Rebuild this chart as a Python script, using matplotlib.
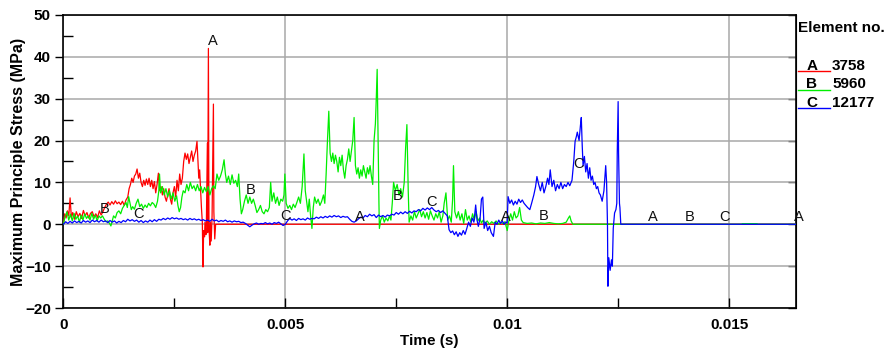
import numpy as np
import matplotlib
matplotlib.use("Agg")
import matplotlib.pyplot as plt
from matplotlib.lines import Line2D
from matplotlib.ticker import MultipleLocator, FuncFormatter, NullLocator

plt.rcParams['font.family'] = ['Liberation Sans', 'DejaVu Sans']

# (time s, max principal stress MPa)
red_pts = [
    (0.0, 0), (0.00003, 2.5), (0.00006, 1.5), (0.00009, 3.2), (0.00012, 2.0),
    (0.00015, 6.3), (0.00018, 1.5), (0.00021, 2.8), (0.00025, 1.2), (0.00029, 3.0),
    (0.00033, 1.8), (0.00037, 2.6), (0.00041, 1.4), (0.00045, 3.3), (0.00049, 2.0),
    (0.00053, 2.8), (0.00057, 1.5), (0.00061, 2.6), (0.00065, 3.0), (0.00069, 1.8),
    (0.00073, 2.5), (0.00077, 1.6), (0.00081, 3.2), (0.00085, 2.2), (0.00089, 3.0),
    (0.00093, 4.0), (0.00097, 4.8), (0.00101, 5.3), (0.00105, 4.6), (0.00109, 5.4),
    (0.00113, 4.8), (0.00117, 5.6), (0.00121, 4.9), (0.00125, 5.3), (0.00129, 4.7),
    (0.00133, 5.5), (0.00137, 4.5), (0.00141, 5.8), (0.00145, 6.5), (0.00148, 8.5),
    (0.00151, 9.5), (0.00154, 11.0), (0.00157, 10.0), (0.00160, 11.5), (0.00163, 12.0),
    (0.00166, 13.2), (0.00169, 11.0), (0.00172, 12.2), (0.00175, 10.0), (0.00178, 9.0),
    (0.00181, 10.5), (0.00184, 9.3), (0.00187, 10.8), (0.00190, 9.5), (0.00193, 11.0),
    (0.00196, 9.0), (0.00199, 10.5), (0.00202, 8.5), (0.00205, 10.2), (0.00208, 7.5),
    (0.00211, 9.5), (0.00214, 12.2), (0.00217, 8.0), (0.00220, 9.0), (0.00223, 7.0),
    (0.00226, 8.5), (0.00229, 6.5), (0.00232, 5.5), (0.00235, 7.0), (0.00238, 8.5),
    (0.00241, 6.0), (0.00244, 4.8), (0.00247, 7.5), (0.00250, 9.0), (0.00253, 6.5),
    (0.00256, 10.5), (0.00259, 8.0), (0.00262, 12.0), (0.00265, 9.5), (0.00268, 11.0),
    (0.00271, 15.0), (0.00274, 17.0), (0.00277, 15.5), (0.00280, 16.8), (0.00283, 14.5),
    (0.00286, 16.0), (0.00289, 17.5), (0.00292, 15.0), (0.00295, 16.5), (0.00298, 17.5),
    (0.00301, 19.8), (0.00303, 15.5), (0.00305, 11.0), (0.00307, 13.0), (0.00309, 8.5),
    (0.00311, 4.0), (0.00313, 0.5), (0.003145, -10.2), (0.00316, -1.5), (0.00318, -3.0),
    (0.00319, 0.5), (0.00321, -2.5), (0.00322, -1.0), (0.003244, 19.4), (0.00325, -2.0),
    (0.003267, 42.0), (0.00328, -1.0), (0.00330, -5.0), (0.00331, 0.5), (0.00333, -4.0),
    (0.00335, 2.0), (0.00338, 28.7), (0.00339, 3.0), (0.00341, -3.5), (0.00343, 0.0),
    (0.0165, 0.0),
]

green_pts = [
    (0.0, 0), (0.00003, 1.5), (0.00008, 3.0), (0.00012, 1.0), (0.00016, 2.4),
    (0.00020, 0.8), (0.00024, 2.6), (0.00028, 1.2), (0.00032, 2.0), (0.00036, 0.5),
    (0.00040, 2.2), (0.00044, 1.0), (0.00048, 2.5), (0.00052, 1.4), (0.00056, 2.0),
    (0.00060, 1.0), (0.00064, 2.6), (0.00068, 1.2), (0.00072, 2.2), (0.00076, 0.8),
    (0.00080, 2.0), (0.00084, 1.5), (0.00088, 2.0), (0.00092, 1.2), (0.00096, 0.6),
    (0.00100, 0.8), (0.00104, 0.2), (0.00107, -0.4), (0.00110, 0.8), (0.00113, 2.0),
    (0.00117, 1.5), (0.00121, 2.8), (0.00125, 3.2), (0.00129, 2.5), (0.00133, 3.8),
    (0.00137, 4.5), (0.00141, 5.2), (0.00144, 4.0), (0.00147, 6.6), (0.00150, 5.0),
    (0.00153, 3.5), (0.00156, 4.2), (0.00160, 3.6), (0.00164, 5.0), (0.00168, 6.0),
    (0.00172, 4.2), (0.00176, 4.8), (0.00180, 3.8), (0.00184, 4.6), (0.00188, 4.0),
    (0.00192, 5.0), (0.00196, 4.4), (0.00200, 5.2), (0.00204, 4.8), (0.00208, 4.0),
    (0.00212, 5.5), (0.00215, 8.0), (0.002165, 12.0), (0.00219, 7.5), (0.00223, 9.0),
    (0.00227, 7.0), (0.00231, 8.5), (0.00235, 6.5), (0.00239, 8.0), (0.00243, 6.0),
    (0.00247, 7.5), (0.00251, 5.5), (0.00255, 6.8), (0.00258, 4.5), (0.00261, 3.0),
    (0.00264, 4.0), (0.00267, 6.5), (0.00270, 8.0), (0.00274, 7.5), (0.00278, 9.5),
    (0.00282, 8.0), (0.00286, 10.0), (0.00290, 8.5), (0.00294, 9.2), (0.00298, 8.0),
    (0.00302, 9.5), (0.00306, 8.0), (0.00310, 9.0), (0.00314, 7.5), (0.00318, 8.8),
    (0.00322, 7.8), (0.00326, 9.0), (0.00330, 7.0), (0.00334, 8.5), (0.00338, 9.2),
    (0.00342, 8.5), (0.00346, 12.0), (0.00350, 10.5), (0.00354, 11.5), (0.00358, 13.0),
    (0.00362, 15.4), (0.00365, 12.0), (0.00368, 10.0), (0.00372, 11.5), (0.00376, 9.5),
    (0.00380, 11.8), (0.00384, 9.8), (0.00388, 10.5), (0.00392, 9.0), (0.00395, 12.0),
    (0.00398, 6.0), (0.00401, 2.5), (0.00404, 3.5), (0.00408, 5.5), (0.00412, 7.0),
    (0.00416, 5.0), (0.00420, 6.5), (0.00424, 5.0), (0.00428, 6.0), (0.00432, 4.5),
    (0.00436, 2.8), (0.00440, 3.5), (0.00444, 4.5), (0.00448, 3.0), (0.00452, 2.5),
    (0.00456, 3.5), (0.00460, 3.0), (0.00464, 4.0), (0.00467, 10.0), (0.00470, 5.5),
    (0.00474, 7.5), (0.00478, 5.0), (0.00482, 6.5), (0.00486, 4.5), (0.00490, 6.0),
    (0.00494, 5.5), (0.00497, 7.0), (0.00499, 12.0), (0.00502, 5.0), (0.00506, 3.8),
    (0.00510, 4.5), (0.00514, 3.5), (0.00518, 4.8), (0.00522, 4.0), (0.00526, 5.2),
    (0.00530, 6.5), (0.00534, 5.0), (0.00538, 9.0), (0.00542, 16.8), (0.00545, 8.0),
    (0.00548, 5.5), (0.00551, 3.0), (0.00554, 6.0), (0.00557, 2.0), (0.00560, -1.0),
    (0.00563, 4.0), (0.00566, 6.5), (0.00570, 5.0), (0.00574, 6.0), (0.00578, 4.5),
    (0.00582, 5.5), (0.00586, 7.0), (0.00589, 5.0), (0.00592, 12.0), (0.00595, 20.0),
    (0.00598, 27.0), (0.00601, 17.0), (0.00604, 15.0), (0.00607, 17.0), (0.00610, 14.5),
    (0.00613, 16.5), (0.00616, 15.0), (0.00619, 12.5), (0.00622, 16.0), (0.00625, 14.0),
    (0.00628, 16.5), (0.00631, 13.0), (0.00634, 11.0), (0.00637, 14.0), (0.00640, 15.5),
    (0.00643, 18.0), (0.00646, 15.0), (0.00649, 17.5), (0.00652, 20.0), (0.00655, 25.5),
    (0.00658, 14.0), (0.00661, 12.0), (0.00664, 13.5), (0.00667, 11.0), (0.00670, 13.0),
    (0.00673, 11.5), (0.00676, 14.0), (0.00679, 12.5), (0.00682, 11.0), (0.00685, 13.5),
    (0.00688, 12.0), (0.00691, 14.0), (0.00694, 11.5), (0.00697, 9.5), (0.00700, 20.0),
    (0.00703, 24.0), (0.00705, 30.0), (0.00707, 37.0), (0.00709, 20.0), (0.00711, 5.0),
    (0.00712, -1.0), (0.00715, 1.0), (0.00719, 2.0), (0.00723, 0.5), (0.00727, 1.5),
    (0.00731, 0.8), (0.00735, 2.0), (0.00738, 1.0), (0.00741, 5.0), (0.00744, 10.0),
    (0.00748, 8.0), (0.00752, 9.5), (0.00756, 7.0), (0.00760, 8.5), (0.00764, 6.5),
    (0.00768, 10.0), (0.00771, 18.0), (0.00774, 23.8), (0.00777, 8.0), (0.00779, 0.5),
    (0.00783, 2.0), (0.00787, 1.0), (0.00791, 3.0), (0.00795, 1.5), (0.00799, 2.5),
    (0.00803, 3.5), (0.00807, 1.8), (0.00811, 3.0), (0.00815, 1.5), (0.00819, 2.8),
    (0.00823, 1.2), (0.00827, 3.2), (0.00831, 2.0), (0.00835, 1.0), (0.00839, 2.5),
    (0.00843, 1.5), (0.00847, 3.0), (0.00851, 0.5), (0.00855, 2.0), (0.00858, 5.0),
    (0.00862, 7.5), (0.00866, 1.0), (0.00870, 2.0), (0.00874, 0.5), (0.00877, 6.0),
    (0.00879, 14.0), (0.00882, 3.0), (0.00886, 1.5), (0.00890, 3.0), (0.00894, 1.0),
    (0.00898, 2.5), (0.00902, 0.2), (0.00906, 3.5), (0.00910, 1.0), (0.00914, 2.0),
    (0.00918, 0.5), (0.00922, 2.5), (0.00926, 1.0), (0.00930, 3.0), (0.00934, 0.8),
    (0.00938, 1.5), (0.00942, 0.3), (0.00946, 1.0), (0.00950, 0.2), (0.00955, 0.8),
    (0.00960, 0.0), (0.00965, 0.6), (0.00970, 0.2), (0.00975, 0.8), (0.00980, 0.0),
    (0.00985, 0.5), (0.00990, 0.2), (0.00995, 0.6), (0.01000, -1.5), (0.01004, 1.0),
    (0.01008, 2.5), (0.01012, 1.0), (0.01016, 3.0), (0.01020, 1.5), (0.01024, 2.0),
    (0.01028, 4.0), (0.01032, 1.0), (0.01036, 0.4), (0.01045, 0.2), (0.01055, 0.3),
    (0.01065, 0.1), (0.01075, 0.3), (0.01085, 0.2), (0.01095, 0.4), (0.01105, 0.2),
    (0.01115, 0.1), (0.01125, 0.2), (0.01133, 0.5), (0.01138, 1.5), (0.01141, 2.0),
    (0.01144, 0.8), (0.01148, 0.0), (0.01528, 0.0), (0.01530, 0.15), (0.01563, 0.15),
    (0.01565, 0.0), (0.0165, 0.0),
]

blue_pts = [
    (0.0, 0.0), (0.00005, 0.6), (0.00010, 0.2), (0.00015, 0.7), (0.00020, 0.3),
    (0.00025, 0.8), (0.00030, 0.4), (0.00035, 0.7), (0.00040, 0.3), (0.00045, 0.9),
    (0.00050, 0.5), (0.00055, 0.8), (0.00060, 0.4), (0.00065, 1.0), (0.00070, 0.6),
    (0.00075, 0.9), (0.00080, 0.5), (0.00085, 1.0), (0.00090, 0.6), (0.00095, 0.8),
    (0.00100, 0.4), (0.00105, 0.9), (0.00110, 0.5), (0.00115, 0.8), (0.00120, 0.3),
    (0.00125, 0.7), (0.00130, 0.4), (0.00135, 0.9), (0.00140, 0.6), (0.00145, 1.2),
    (0.00150, 0.8), (0.00155, 1.1), (0.00160, 0.7), (0.00165, 1.0), (0.00170, 0.5),
    (0.00175, 0.9), (0.00180, 0.4), (0.00185, 0.8), (0.00190, 0.5), (0.00195, 1.0),
    (0.00200, 0.6), (0.00205, 1.1), (0.00210, 0.7), (0.00215, 1.2), (0.00220, 1.0),
    (0.00225, 1.4), (0.00230, 1.1), (0.00235, 1.5), (0.00240, 1.2), (0.00245, 1.6),
    (0.00250, 1.3), (0.00255, 1.5), (0.00260, 1.2), (0.00265, 1.4), (0.00270, 1.1),
    (0.00275, 1.3), (0.00280, 1.0), (0.00285, 1.4), (0.00290, 1.1), (0.00295, 1.3),
    (0.00300, 1.0), (0.00305, 1.2), (0.00310, 0.9), (0.00315, 1.1), (0.00320, 0.8),
    (0.00325, 1.0), (0.00330, 0.7), (0.00335, 1.2), (0.00340, 0.8), (0.00345, 1.0),
    (0.00350, 0.6), (0.00355, 0.9), (0.00360, 0.7), (0.00365, 1.0), (0.00370, 0.6),
    (0.00375, 0.8), (0.00380, 0.5), (0.00385, 0.8), (0.00390, 0.6), (0.00395, 0.7),
    (0.00400, 0.4), (0.00405, 0.5), (0.00410, 0.2), (0.00415, -0.2), (0.00420, -0.6),
    (0.00425, -0.2), (0.00430, 0.1), (0.00435, 0.3), (0.00440, 0.0), (0.00445, 0.2),
    (0.00450, 0.1), (0.00455, 0.4), (0.00460, 0.1), (0.00465, 0.3), (0.00470, 0.0),
    (0.00475, 0.4), (0.00480, 0.2), (0.00485, 0.5), (0.00490, 0.1), (0.00495, -0.3),
    (0.00500, 0.0), (0.00505, 0.8), (0.00510, 1.4), (0.00515, 1.0), (0.00520, 1.3),
    (0.00525, 0.9), (0.00530, 1.4), (0.00535, 1.1), (0.00540, 1.3), (0.00545, 1.0),
    (0.00550, 1.5), (0.00555, 1.2), (0.00560, 1.4), (0.00565, 1.3), (0.00570, 1.7),
    (0.00575, 1.4), (0.00580, 1.8), (0.00585, 1.5), (0.00590, 1.9), (0.00595, 1.6),
    (0.00600, 2.0), (0.00605, 1.7), (0.00610, 2.1), (0.00615, 1.8), (0.00620, 2.0),
    (0.00625, 1.6), (0.00630, 1.9), (0.00635, 1.7), (0.00640, 1.8), (0.00645, 1.2),
    (0.00650, 0.7), (0.00655, 0.5), (0.00660, 0.8), (0.00665, 1.3), (0.00670, 1.7),
    (0.00675, 1.5), (0.00680, 2.1), (0.00685, 1.8), (0.00690, 2.4), (0.00695, 2.0),
    (0.00700, 2.3), (0.00705, 1.6), (0.00710, 2.2), (0.00715, 1.8), (0.00720, 2.1),
    (0.00725, 1.7), (0.00730, 2.2), (0.00735, 2.0), (0.00740, 2.4), (0.00745, 2.2),
    (0.00750, 2.8), (0.00755, 2.4), (0.00760, 2.9), (0.00765, 2.5), (0.00770, 3.0),
    (0.00775, 2.6), (0.00780, 3.1), (0.00785, 2.7), (0.00790, 3.2), (0.00795, 3.0),
    (0.00800, 3.5), (0.00805, 3.2), (0.00810, 3.8), (0.00815, 3.4), (0.00820, 3.9),
    (0.00825, 3.5), (0.00830, 4.0), (0.00835, 3.4), (0.00840, 3.0), (0.00845, 3.3),
    (0.00850, 2.8), (0.00855, 3.2), (0.00860, 2.6), (0.00865, 2.0), (0.00869, -1.3),
    (0.00873, -2.0), (0.00877, -1.6), (0.00881, -2.5), (0.00885, -1.8), (0.00889, -2.9),
    (0.00893, -2.0), (0.00897, -2.6), (0.00901, -1.5), (0.00905, -2.4), (0.00909, -1.0),
    (0.00913, 0.5), (0.00917, -0.5), (0.00921, 1.5), (0.00925, 0.5), (0.00929, 4.6),
    (0.00932, 1.0), (0.00935, -0.5), (0.00939, 1.5), (0.00942, 6.0), (0.00945, 6.5),
    (0.00948, -1.0), (0.00952, 0.5), (0.00956, -1.5), (0.00960, -0.5), (0.00964, -2.0),
    (0.00969, -2.9), (0.00973, 0.5), (0.00977, 0.0), (0.00981, 1.0), (0.00985, 0.2),
    (0.00989, 0.8), (0.00993, 0.0), (0.00997, 0.5), (0.01000, 0.3), (0.01002, 6.6),
    (0.01006, 5.0), (0.01010, 5.8), (0.01014, 4.6), (0.01018, 5.5), (0.01022, 4.8),
    (0.01026, 6.0), (0.01030, 5.2), (0.01034, 5.8), (0.01038, 5.0), (0.01042, 4.5),
    (0.01046, 4.0), (0.01051, 3.5), (0.01055, 5.0), (0.01060, 7.0), (0.01064, 9.0),
    (0.01067, 11.4), (0.01071, 9.5), (0.01075, 8.0), (0.01079, 10.0), (0.01083, 7.5),
    (0.01087, 9.0), (0.01091, 11.0), (0.01094, 9.5), (0.01097, 13.0), (0.01101, 9.0),
    (0.01105, 10.5), (0.01109, 8.0), (0.01113, 9.5), (0.01117, 8.5), (0.01121, 10.0),
    (0.01125, 8.5), (0.01129, 9.5), (0.01133, 9.0), (0.01137, 10.0), (0.01141, 9.2),
    (0.01146, 10.5), (0.01150, 15.0), (0.01153, 19.8), (0.01156, 21.0), (0.01158, 22.0),
    (0.01162, 20.0), (0.01165, 23.5), (0.01167, 25.5), (0.01169, 19.0), (0.01171, 14.0),
    (0.01174, 16.2), (0.01177, 12.5), (0.01180, 14.5), (0.01183, 11.0), (0.01186, 13.5),
    (0.01189, 10.5), (0.01192, 11.5), (0.01195, 9.5), (0.01198, 10.0), (0.01201, 8.5),
    (0.01204, 9.0), (0.01207, 7.5), (0.01210, 7.0), (0.01214, 5.5), (0.01218, 8.0),
    (0.01222, 14.0), (0.01224, 10.0), (0.01226, 0.0), (0.01227, -14.8), (0.01229, -8.0),
    (0.01232, -11.0), (0.01235, -8.5), (0.01237, -10.0), (0.01239, -1.0), (0.01242, 2.7),
    (0.01245, 3.5), (0.01247, 5.0), (0.01248, 17.0), (0.01250, 29.3), (0.01251, 17.0),
    (0.01253, 5.0), (0.01254, 4.0), (0.01256, 0.0), (0.0165, 0.0),
]

curve_letters = ['A', 'B', 'C']
element_ids = ['3758', '5960', '12177']
curve_colors = ['#ff0000', '#00ee00', '#0000ff']
# where the curve letters sit along each line (every 0.0033 s)
label_times = {
    'A': [0.003267, 0.00657, 0.00987, 0.01317, 0.01647],
    'B': [0.00081, 0.00411, 0.00741, 0.01071, 0.01401],
    'C': [0.00158, 0.00488, 0.00818, 0.01148, 0.01478],
}

fig = plt.figure(figsize=(8.87, 3.51), dpi=100)
ax = fig.add_axes([0.0715, 0.1225, 0.8255, 0.835])

series = [np.array(red_pts).T, np.array(green_pts).T, np.array(blue_pts).T]
for (t, s), col in zip(series, curve_colors):
    ax.plot(t, s, color=col, lw=0.9, zorder=3)

for (t, s), letter in zip(series, curve_letters):
    for lt in label_times[letter]:
        ax.text(lt, np.interp(lt, t, s), letter, ha='left', va='bottom',
                fontsize=10.5, color='#111111', zorder=4, clip_on=False)

ax.set_xlim(0, 0.0165)
ax.set_ylim(-20, 50)
ax.xaxis.set_major_locator(MultipleLocator(0.005))
ax.xaxis.set_minor_locator(MultipleLocator(0.0025))
ax.yaxis.set_major_locator(MultipleLocator(10))
ax.yaxis.set_minor_locator(MultipleLocator(5))
ax.xaxis.set_major_formatter(FuncFormatter(lambda v, p: '0' if v == 0 else ('%g' % v)))
ax.grid(True, which='major', color='#a8a8a8', lw=1.1, zorder=1)

ax.tick_params(axis='y', which='major', direction='out', length=6, width=1,
               labelsize=11, pad=3)
ax.tick_params(axis='y', which='minor', direction='in', length=7, width=1)
ax.tick_params(axis='x', which='major', direction='in', length=7, width=1,
               labelsize=11, pad=7)
ax.tick_params(axis='x', which='minor', direction='in', length=7, width=1)
for lab in ax.get_xticklabels() + ax.get_yticklabels():
    lab.set_fontweight('bold')
for sp in ax.spines.values():
    sp.set_linewidth(1.2)

# inward ticks on the right frame
right = ax.secondary_yaxis('right')
right.yaxis.set_major_locator(MultipleLocator(10))
right.yaxis.set_minor_locator(NullLocator())
right.tick_params(direction='in', length=6, width=1, labelright=False)

ax.set_xlabel('Time (s)', fontsize=11, fontweight='bold', labelpad=1.5)
ax.set_ylabel('Maximum Principle Stress (MPa)', fontsize=11.5, fontweight='bold', labelpad=-1)

# legend block on the right
fig.text(0.8997, 0.920, 'Element no.', fontsize=11, fontweight='bold', va='center')
row_y = [0.812, 0.760, 0.707]
for letter, num, col, yy in zip(curve_letters, element_ids, curve_colors, row_y):
    fig.text(0.9154, yy, letter, fontsize=11, fontweight='bold', ha='center', va='center')
    fig.text(0.938, yy, num, fontsize=11, fontweight='bold', va='center')
    fig.add_artist(Line2D([0.8997, 0.9357], [yy - 0.0155, yy - 0.0155],
                          transform=fig.transFigure, color=col, lw=1))

fig.savefig('out.png', dpi=100)
